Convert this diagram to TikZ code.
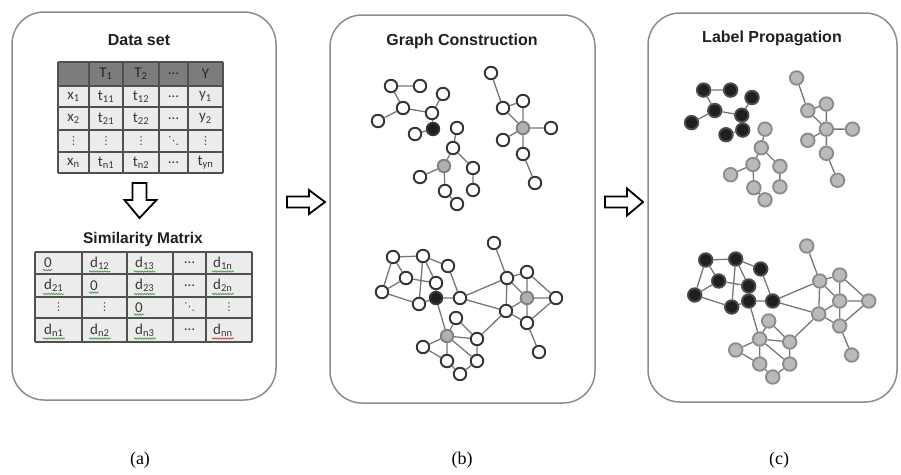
\documentclass[tikz,border=0pt]{standalone}
\usepackage{fontspec}
\setmainfont{Liberation Serif}
\newfontfamily\headfont{Liberation Sans}
\newfontfamily\cellfont{Carlito}
\newfontfamily\dotsfont{DejaVu Sans}
\usetikzlibrary{decorations.pathmorphing}

\definecolor{framegray}{HTML}{8C8C8C}
\definecolor{gridgray}{HTML}{505050}
\definecolor{headgray}{HTML}{7C7C7C}
\definecolor{cellgray}{HTML}{ECECEC}
\definecolor{edgegray}{HTML}{767676}
\definecolor{ringgray}{HTML}{353535}
\definecolor{seedgray}{HTML}{B0B0B0}
\definecolor{spellgreen}{HTML}{4A9A4A}
\definecolor{spellred}{HTML}{C84040}

\tikzset{
  panel/.style={draw=framegray, line width=1.5, rounded corners=32},
  title/.style={font=\headfont\bfseries\fontsize{16}{18}\selectfont, text=black!88},
  grid/.style={draw=gridgray, line width=1.3},
  dcell/.style={font=\cellfont\fontsize{15}{17}\selectfont, text=black!78, inner sep=1},
  scell/.style={dcell, anchor=west},
  vdots/.style={font=\dotsfont\fontsize{11}{13}\selectfont, text=black!75, inner sep=1},
  squig/.style={draw=spellgreen, line width=0.7, decorate,
    decoration={snake, amplitude=0.7, segment length=2.5}},
  blockarrow/.style={draw=black, line width=1.8, fill=white, line join=miter},
  vtx/.style={circle, draw=ringgray, line width=1.9, minimum size=12.5, inner sep=0, fill=white},
  edge/.style={draw=edgegray, line width=1.3},
  caption/.style={font=\fontsize{18}{20}\selectfont},
}

% the small forest (top of panels b and c)
\newcommand\topgraph{
  \node[grpA] (a1) at (11,16) {};
  \node[grpA] (a2) at (40,16) {};
  \node[grpA] (a3) at (63,24) {};
  \node[grpA] (a4) at (23,38) {};
  \node[grpA] (a5) at (-2,51) {};
  \node[grpA] (a6) at (52,43) {};
  \node[seedA] (a7) at (53,59) {};
  \node[grpA] (a8) at (35,64) {};
  \node[grpB] (m1) at (77,58) {};
  \node[grpB] (m2) at (73,78) {};
  \node[seedB] (m3) at (64,96) {};
  \node[grpB] (m4) at (40,107) {};
  \node[grpB] (m5) at (93,98) {};
  \node[grpB] (m6) at (93,120) {};
  \node[grpB] (m7) at (65,121) {};
  \node[grpB] (m8) at (77,134) {};
  \node[grpB] (r1) at (111,3) {};
  \node[grpB] (r2) at (123,38) {};
  \node[grpB] (r3) at (143,31) {};
  \node[seedB] (r4) at (143,58) {};
  \node[grpB] (r5) at (171,58) {};
  \node[grpB] (r6) at (123,70) {};
  \node[grpB] (r7) at (143,84) {};
  \node[grpB] (r8) at (155,113) {};
  \draw[edge] (a1) -- (a2) (a1) -- (a4) (a4) -- (a5) (a4) -- (a6)
    (a6) -- (a3) (a6) -- (a7) (a7) -- (a8);
  \draw[edge] (m1) -- (m2) (m2) -- (m3) (m2) -- (m5) (m3) -- (m4)
    (m3) -- (m7) (m7) -- (m8) (m5) -- (m6);
  \draw[edge] (r1) -- (r2) (r2) -- (r3) (r2) -- (r4) (r3) -- (r4)
    (r4) -- (r5) (r4) -- (r6) (r4) -- (r7) (r7) -- (r8);
}

% the connected graph (bottom of panels b and c)
\newcommand\botgraph{
  \node[grpA] (b1) at (13,17) {};
  \node[grpA] (b2) at (43,16) {};
  \node[grpA] (b3) at (68,26) {};
  \node[grpA] (b4) at (26,38) {};
  \node[grpA] (b5) at (2,52) {};
  \node[grpA] (b6) at (56,43) {};
  \node[seedA] (b7) at (56,58) {};
  \node[grpA] (b8) at (39,64) {};
  \node[grpA] (b9) at (80,58) {};
  \node[grpB] (b10) at (76,78) {};
  \node[seedB] (b11) at (67,96) {};
  \node[grpB] (b12) at (43,107) {};
  \node[grpB] (b13) at (97,99) {};
  \node[grpB] (b14) at (67,121) {};
  \node[grpB] (b15) at (97,121) {};
  \node[grpB] (b16) at (80,134) {};
  \node[grpB] (b17) at (114,3) {};
  \node[grpB] (b18) at (127,38) {};
  \node[grpB] (b19) at (147,32) {};
  \node[seedB] (b20) at (147,58) {};
  \node[grpB] (b21) at (176,58) {};
  \node[grpB] (b22) at (126,71) {};
  \node[grpB] (b23) at (147,83) {};
  \node[grpB] (b24) at (159,112) {};
  \draw[edge] (b1) -- (b2) (b1) -- (b5) (b1) -- (b4) (b2) -- (b3)
    (b2) -- (b6) (b2) -- (b8) (b4) -- (b5) (b4) -- (b6) (b5) -- (b8)
    (b3) -- (b9) (b6) -- (b7) (b7) -- (b8) (b7) -- (b9) (b7) -- (b11);
  \draw[edge] (b9) -- (b18) (b9) -- (b22) (b10) -- (b11) (b10) -- (b13)
    (b11) -- (b12) (b11) -- (b13) (b11) -- (b14) (b11) -- (b15)
    (b12) -- (b14) (b14) -- (b16) (b16) -- (b15) (b15) -- (b13) (b13) -- (b22);
  \draw[edge] (b17) -- (b18) (b18) -- (b19) (b18) -- (b20) (b18) -- (b22)
    (b19) -- (b21) (b19) -- (b20) (b20) -- (b21) (b20) -- (b23)
    (b21) -- (b23) (b22) -- (b23) (b23) -- (b24) (b20) -- (b22);
}

\begin{document}
\begin{tikzpicture}[x=1pt, y=-1pt]
\useasboundingbox (0,0) rectangle (901,474);

% panel frames
\draw[panel] (12,12) rectangle (276,400);
\draw[panel] (330,15) rectangle (595,403);
\draw[panel] (648,13) rectangle (897,402);

\node[title] (dtitle) at (139,40) {Data set};
\node[title] (gtitle) at (462,41) {Graph Construction};
\node[title] (ltitle) at (772,38) {Label Propagation};
\node[title, font=\headfont\bfseries\fontsize{15.5}{17}\selectfont] (stitle) at (143,239) {Similarity Matrix};

% data set table
\fill[headgray] (58,62) rectangle (223,86);
\fill[cellgray] (58,86) rectangle (223,173);
\foreach \x in {58,89,123,159,188,223} \draw[grid] (\x,62) -- (\x,173);
\foreach \y in {62,86,107,130,152,173} \draw[grid] (58,\y) -- (223,\y);
\foreach \x/\t [count=\j] in {106/T\textsubscript{1}, 141/T\textsubscript{2}, 173.5/\ldots, 205.5/Y}
  \node[dcell, text=black!85] (h\j) at (\x,74) {\t};
\foreach \x/\t [count=\j] in {73.5/x\textsubscript{1}, 106/t\textsubscript{11}, 141/t\textsubscript{12}, 173.5/\ldots, 205.5/y\textsubscript{1}}
  \node[dcell] (ta\j) at (\x,96.5) {\t};
\foreach \x/\t [count=\j] in {73.5/x\textsubscript{2}, 106/t\textsubscript{21}, 141/t\textsubscript{22}, 173.5/\ldots, 205.5/y\textsubscript{2}}
  \node[dcell] (tb\j) at (\x,118.5) {\t};
\foreach \x/\t [count=\j] in {73.5/⋮, 106/⋮, 141/⋮, 173.5/⋱, 205.5/⋮}
  \node[vdots] (tc\j) at (\x,141) {\t};
\foreach \x/\t [count=\j] in {73.5/x\textsubscript{n}, 106/t\textsubscript{n1}, 141/t\textsubscript{n2}, 173.5/\ldots, 205.5/t\textsubscript{yn}}
  \node[dcell] (td\j) at (\x,162.5) {\t};

% down arrow
\draw[blockarrow] (132.5,183) -- (146.5,183) -- (146.5,200) -- (156.5,200)
  -- (139.5,218) -- (124.5,200) -- (132.5,200) -- cycle;

% similarity matrix
\fill[cellgray] (35,252) rectangle (252,342);
\foreach \x in {35,82,127,173,206,252} \draw[grid] (\x,252) -- (\x,342);
\foreach \y in {252,274,297,318,342} \draw[grid] (35,\y) -- (252,\y);
\node[scell] (s11) at (43,263) {0};
\node[scell] (s12) at (89,263) {d\textsubscript{12}};
\node[scell] (s13) at (134,263) {d\textsubscript{13}};
\node[dcell] (s14) at (189.5,263) {\ldots};
\node[scell] (s15) at (212,263) {d\textsubscript{1n}};
\node[scell] (s21) at (43,285.5) {d\textsubscript{21}};
\node[scell] (s22) at (89,285.5) {0};
\node[scell] (s23) at (134,285.5) {d\textsubscript{23}};
\node[dcell] (s24) at (189.5,285.5) {\ldots};
\node[scell] (s25) at (212,285.5) {d\textsubscript{2n}};
\node[vdots] (s31) at (58.5,307.5) {⋮};
\node[vdots] (s32) at (104.5,307.5) {⋮};
\node[scell] (s33) at (134,307.5) {0};
\node[vdots] (s34) at (189.5,307.5) {⋱};
\node[vdots] (s35) at (229,307.5) {⋮};
\node[scell] (s41) at (43,330) {d\textsubscript{n1}};
\node[scell] (s42) at (89,330) {d\textsubscript{n2}};
\node[scell] (s43) at (134,330) {d\textsubscript{n3}};
\node[dcell] (s44) at (189.5,330) {\ldots};
\node[scell] (s45) at (212,330) {d\textsubscript{nn}};
\foreach \c in {s11,s12,s13,s15,s21,s22,s23,s25,s33,s41,s42,s43}
  \draw[squig] ([yshift=-1]\c.south west) -- ([yshift=-1]\c.south east);
\draw[squig, draw=spellred] ([yshift=-1]s45.south west) -- ([yshift=-1]s45.south east);

% arrows between panels
\draw[blockarrow] (287,196.5) -- (309,196.5) -- (309,190) -- (325,202)
  -- (309,214) -- (309,207.5) -- (287,207.5) -- cycle;
\draw[blockarrow] (605,196.5) -- (627,196.5) -- (627,188.5) -- (643,202)
  -- (627,215.5) -- (627,207.5) -- (605,207.5) -- cycle;

% panel b: graph construction
\begin{scope}[shift={(380,70)}, name prefix=bt-,
  grpA/.style={vtx}, grpB/.style={vtx},
  seedA/.style={vtx, fill=black!88},
  seedB/.style={vtx, fill=seedgray, draw=gray}]
  \topgraph
\end{scope}
\begin{scope}[shift={(380,240)}, name prefix=bb-,
  grpA/.style={vtx}, grpB/.style={vtx},
  seedA/.style={vtx, fill=black!88},
  seedB/.style={vtx, fill=seedgray, draw=gray}]
  \botgraph
\end{scope}

% panel c: label propagation
\begin{scope}[shift={(693.4,75.2)}, scale=0.93, name prefix=ct-,
  grpA/.style={vtx, minimum size=13.5, fill=black!88, draw=black!70},
  seedA/.style={grpA},
  grpB/.style={vtx, minimum size=13.5, fill=black!27, draw=black!45},
  seedB/.style={grpB}]
  \topgraph
\end{scope}
\begin{scope}[shift={(692.7,243)}, name prefix=cb-,
  grpA/.style={vtx, minimum size=13.5, fill=black!88, draw=black!70},
  seedA/.style={grpA},
  grpB/.style={vtx, minimum size=13.5, fill=black!27, draw=black!45},
  seedB/.style={grpB}]
  \botgraph
\end{scope}

\node[caption] (capa) at (140,460) {(a)};
\node[caption] (capb) at (462,460) {(b)};
\node[caption] (capc) at (779,460) {(c)};
\end{tikzpicture}
\end{document}
